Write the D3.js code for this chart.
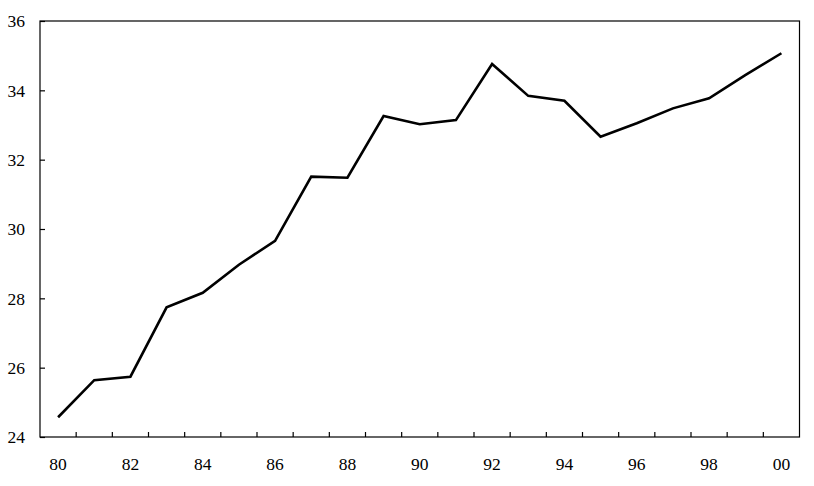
<!DOCTYPE html>
<html><head><meta charset="utf-8">
<script src="https://cdn.jsdelivr.net/npm/d3@7/dist/d3.min.js"></script>
<style>body{margin:0;background:#fff}svg{display:block}</style>
</head><body>
<svg id="c" width="814" height="486"></svg>
<script>
const years = ["80","81","82","83","84","85","86","87","88","89","90","91","92","93","94","95","96","97","98","99","00"];
const values = [24.57,25.64,25.74,27.74,28.16,28.97,29.66,31.51,31.48,33.26,33.02,33.14,34.76,33.84,33.70,32.66,33.05,33.48,33.77,34.44,35.07];
const xTickLabels = ["80","82","84","86","88","90","92","94","96","98","00"];
const yTicks = [24,26,28,30,32,34,36];

const svg = d3.select("#c");
const L=40, R=799.5, T=21, B=437;
const x = d3.scaleBand().domain(years).range([L,R]).padding(0);
const y = d3.scaleLinear().domain([24,36]).range([B,T]);
const font = "'Liberation Serif','Times New Roman',serif";

svg.append("rect").attr("x",L).attr("y",T).attr("width",R-L).attr("height",B-T)
  .attr("fill","none").attr("stroke","#000").attr("stroke-width",1.2);

const ya = svg.append("g").attr("transform",`translate(${L},0)`)
  .call(d3.axisRight(y).tickValues(yTicks).tickSize(5).tickFormat(""));
ya.select(".domain").remove();
ya.selectAll("line").attr("stroke","#000").attr("stroke-width",1.2);
svg.append("g").selectAll("text").data(yTicks).join("text")
  .attr("x",L-15).attr("y",d=>y(d)).attr("dy","0.36em").attr("text-anchor","end")
  .attr("font-family",font).attr("font-size",17.5).text(d=>d);

const bounds = years.slice(1);
svg.append("g").selectAll("line").data(bounds).join("line")
  .attr("x1",d=>x(d)).attr("x2",d=>x(d)).attr("y1",B).attr("y2",B-5)
  .attr("stroke","#000").attr("stroke-width",1.2);
svg.append("g").selectAll("text").data(xTickLabels).join("text")
  .attr("x",d=>x(d)+x.bandwidth()/2).attr("y",470).attr("text-anchor","middle")
  .attr("font-family",font).attr("font-size",17.5).text(d=>d);

const line = d3.line().x((d,i)=>x(years[i])+x.bandwidth()/2).y(d=>y(d));
svg.append("path").datum(values).attr("d",line).attr("fill","none")
  .attr("stroke","#000").attr("stroke-width",2.6).attr("stroke-linejoin","miter");
</script>
</body></html>
